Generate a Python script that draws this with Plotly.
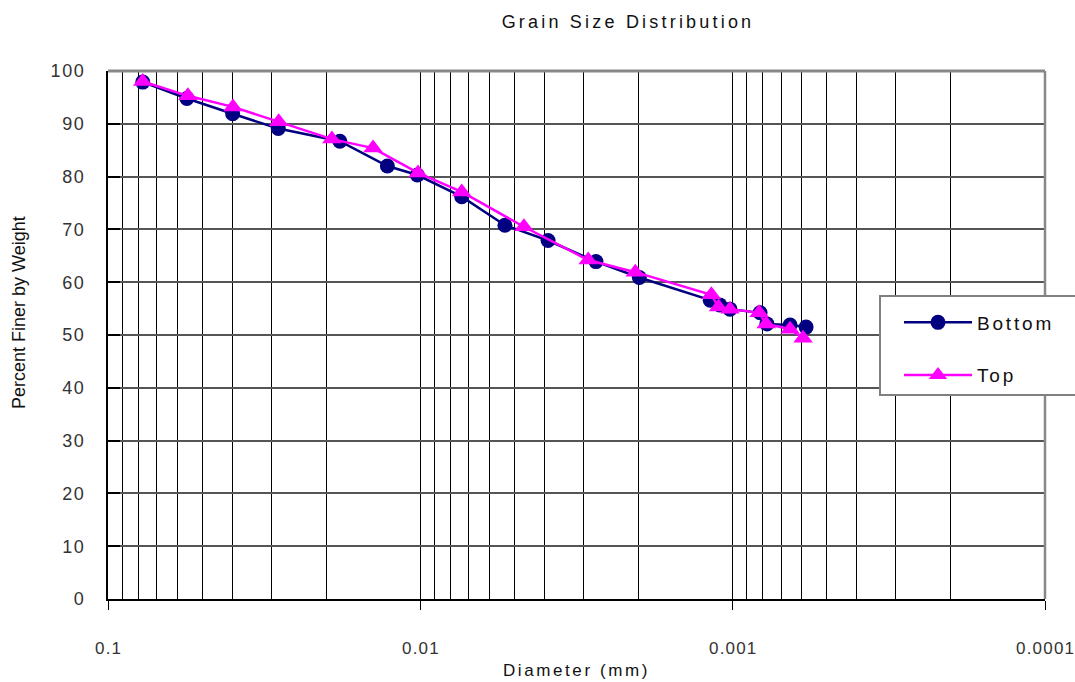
import plotly.graph_objects as go

# ---- data ----
bottom_d = [0.0774, 0.0559, 0.0399, 0.0285, 0.0181, 0.01275, 0.01022, 0.00737,
            0.00536, 0.00390, 0.00274, 0.00199, 0.00118, 0.00110, 0.00102,
            0.000817, 0.000777, 0.000655, 0.000582]
bottom_pf = [97.9, 94.8, 91.9, 89.1, 86.7, 82.0, 80.3, 76.2, 70.8, 67.9, 63.9,
             60.9, 56.6, 55.7, 54.9, 54.2, 52.1, 51.9, 51.5]

top_d = [0.0774, 0.0555, 0.0398, 0.0284, 0.0192, 0.01417, 0.01017, 0.00737,
         0.00466, 0.00290, 0.00205, 0.00117, 0.00111, 0.00102, 0.000823,
         0.000781, 0.000655, 0.000595]
top_pf = [98.0, 95.3, 93.2, 90.4, 87.1, 85.4, 80.7, 77.1, 70.5, 64.2, 61.9,
          57.6, 55.3, 54.9, 54.2, 52.1, 51.1, 49.4]

x_major = [0.1, 0.01, 0.001, 0.0001]
x_major_text = ["0.1", "0.01", "0.001", "0.0001"]
x_minor = [m * 10.0 ** e for e in (-4, -3, -2) for m in range(2, 10)]
y_ticks = list(range(0, 101, 10))

FONT = "Liberation Sans, Arial, sans-serif"


def spaced(t, ls):
    return f'<span style="letter-spacing:{ls}px">{t}</span>'


def legend_name(t, ls, tail):
    # same text, with a wider trailing gap after the last letter
    return (f'<span style="letter-spacing:{ls}px">{t[:-1]}</span>'
            f'<span style="letter-spacing:{tail}px">{t[-1]}</span>')


def tick_label(t, ls):
    # letter-spaced label without trailing gap after the last character
    return (f'<span style="letter-spacing:{ls}px">{t[:-1]}</span>'
            f'<span>{t[-1]}</span>')


fig = go.Figure()
fig.add_trace(go.Scatter(
    x=bottom_d, y=bottom_pf, mode="lines+markers",
    name=legend_name("Bottom", 2.8, 18),
    line=dict(color="#000080", width=2.5),
    marker=dict(symbol="circle", size=15, color="#000080"),
    legendgroup="b",
))
fig.add_trace(go.Scatter(
    x=top_d, y=top_pf, mode="lines+markers",
    name=legend_name("Top", 2.8, 2.8),
    line=dict(color="#FF00FF", width=2.5),
    marker=dict(symbol="triangle-up", size=17, color="#FF00FF"),
    legendgroup="t",
))

fig.update_layout(
    width=1075, height=682, autosize=False,
    margin=dict(l=108, r=30, t=71, b=83, autoexpand=False),
    paper_bgcolor="white", plot_bgcolor="white",
    font=dict(family=FONT, color="#222222"),
    title=dict(text=spaced("Grain Size Distribution", 3.2),
               x=628 / 1075, xanchor="center", xref="container",
               y=1 - 22 / 682, yanchor="middle", yref="container",
               font=dict(size=18, color="#111111")),
    showlegend=True,
    legend=dict(x=(879 - 108) / 937, xanchor="left",
                y=(599 - 295) / 528, yanchor="top",
                bgcolor="white", bordercolor="#808080", borderwidth=2,
                font=dict(size=19, color="#111111"),
                itemwidth=68, indentation=18,
                traceorder="grouped", tracegroupgap=25,
                title=dict(text="&nbsp;", font=dict(size=5))),
    annotations=[dict(text="Percent Finer by Weight", textangle=-90,
                      xref="paper", yref="paper",
                      x=(19 - 108) / 937, y=(599 - 313) / 528,
                      xanchor="center", yanchor="middle", showarrow=False,
                      font=dict(size=18, color="#111111"))],
)

fig.update_xaxes(
    type="log", range=[-1, -4], automargin=False,
    tickvals=x_major, ticktext=[tick_label(t, 1.2) for t in x_major_text],
    ticks="outside", ticklen=9, tickwidth=1, tickcolor="black",
    showgrid=True, gridcolor="black", gridwidth=1,
    minor=dict(tickvals=x_minor, showgrid=True, gridcolor="black",
               gridwidth=1, ticks=""),
    showline=True, linecolor="black", linewidth=2,
    tickfont=dict(size=17, color="#333333"),
    ticklabelstandoff=24, ticklabeloverflow="allow",
    title=dict(text=spaced("Diameter (mm)", 2.6), font=dict(size=17, color="#111111"),
               standoff=7),
    zeroline=False,
)
fig.update_yaxes(
    range=[0, 100], tickvals=y_ticks, automargin=False,
    ticktext=[spaced(str(v), 1.6) for v in y_ticks],
    ticks="inside", ticklen=12, tickwidth=1.5, tickcolor="black",
    showgrid=True, gridcolor="#555555", gridwidth=1.5,
    showline=True, linecolor="black", linewidth=2,
    tickfont=dict(size=18, color="#333333"),
    ticklabelstandoff=17,
    zeroline=False,
)

# gray top/right frame
fig.add_shape(type="line", xref="paper", yref="paper", x0=0, x1=1, y0=1, y1=1,
              line=dict(color="#888888", width=3), layer="above")
fig.add_shape(type="line", xref="paper", yref="paper", x0=1, x1=1, y0=0, y1=1,
              line=dict(color="#888888", width=2.5), layer="above")

fig.write_html("out.html", config={"displayModeBar": False, "responsive": False},
               post_script="document.body.style.margin='0';")
